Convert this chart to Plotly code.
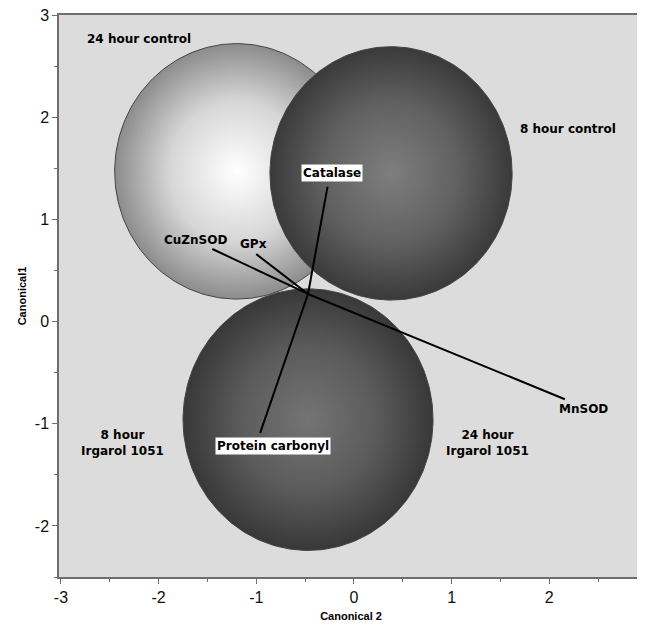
import numpy as np
import plotly.graph_objects as go

# ---- data ----
group_names = ["24 hour control", "8 hour control", "Irgarol 1051"]
group_cx = [-1.20, 0.38, -0.47]
group_cy = [1.47, 1.45, -0.96]
group_r = [1.25, 1.24, 1.28]
group_center_col = ["#ffffff", "#7e7e7e", "#747474"]
group_mid_col = ["#d6d6d6", "#616161", "#5b5b5b"]
group_edge_col = ["#8c8c8c", "#3a3a3a", "#383838"]

ray_origin = (-0.47, 0.27)
var_names = ["Catalase", "CuZnSOD", "GPx", "MnSOD", "Protein carbonyl"]
var_x = [-0.27, -1.45, -1.00, 2.16, -0.96]
var_y = [1.32, 0.71, 0.66, -0.76, -1.09]
var_lx = [-0.22, -1.62, -1.03, 2.35, -0.83]
var_ly = [1.45, 0.80, 0.76, -0.86, -1.22]
var_box = [True, False, False, False, True]

group_labels = ["24 hour control", "8 hour control", "8 hour<br>Irgarol 1051", "24 hour<br>Irgarol 1051"]
group_lx = [-2.2, 2.19, -2.37, 1.37]
group_ly = [2.77, 1.88, -1.19, -1.19]

x_ticks = [-3, -2, -1, 0, 1, 2]
y_ticks = [-2, -1, 0, 1, 2, 3]

FONT = "Liberation Sans, Arial, sans-serif"
LBL_FONT = "DejaVu Sans, Verdana, sans-serif"

fig = go.Figure()
theta = np.linspace(0, 2 * np.pi, 241)
for i in range(len(group_cx)):
    xs = group_cx[i] + group_r[i] * np.cos(theta)
    ys = group_cy[i] + group_r[i] * np.sin(theta)
    fig.add_trace(go.Scatter(
        x=xs, y=ys, mode="lines", fill="toself",
        line=dict(color="#444444", width=1),
        fillgradient=dict(type="radial", colorscale=[
            [0, group_center_col[i]], [0.55, group_mid_col[i]], [1, group_edge_col[i]]]),
        hoverinfo="skip", showlegend=False))

for i in range(len(var_names)):
    fig.add_trace(go.Scatter(
        x=[ray_origin[0], var_x[i]], y=[ray_origin[1], var_y[i]],
        mode="lines", line=dict(color="black", width=2),
        hoverinfo="skip", showlegend=False))
    fig.add_annotation(
        x=var_lx[i], y=var_ly[i], text="<b>" + var_names[i] + "</b>",
        showarrow=False, font=dict(family=LBL_FONT, size=12, color="black"),
        bgcolor="white" if var_box[i] else "rgba(0,0,0,0)", borderpad=1)

for i in range(len(group_labels)):
    fig.add_annotation(
        x=group_lx[i], y=group_ly[i], text="<b>" + group_labels[i] + "</b>",
        showarrow=False, font=dict(family=LBL_FONT, size=12, color="black"),
        align="center")

axis_common = dict(
    showline=True, linecolor="#6e6e6e", linewidth=1.5, mirror=True,
    ticks="outside", ticklen=5, tickcolor="#6e6e6e", tickwidth=1,
    showgrid=False, zeroline=False, automargin=False,
    ticklabeloverflow="allow",
    tickfont=dict(family=FONT, size=16, color="#111111"),
    minor=dict(dtick=0.5, ticks="outside", ticklen=3, tickcolor="#6e6e6e", showgrid=False),
)

fig.update_xaxes(range=[-3.02, 2.96], tickvals=x_ticks, ticktext=[str(v) for v in x_ticks],
                 title=dict(text="<b>Canonical 2</b>", font=dict(family=FONT, size=11, color="black"), standoff=7),
                 **axis_common)
fig.update_yaxes(range=[-2.5, 3.0], tickvals=y_ticks, ticktext=[str(v) for v in y_ticks],
                 title=dict(text="<b>Canonical1</b>", font=dict(family=FONT, size=11, color="black"), standoff=6),
                 **axis_common)

fig.update_layout(
    width=637, height=617,
    margin=dict(l=50.5, r=1.5, t=6.5, b=47.5),
    paper_bgcolor="white", plot_bgcolor="#dcdcdc",
    font=dict(family=FONT),
)

fig.write_html("out.html")
